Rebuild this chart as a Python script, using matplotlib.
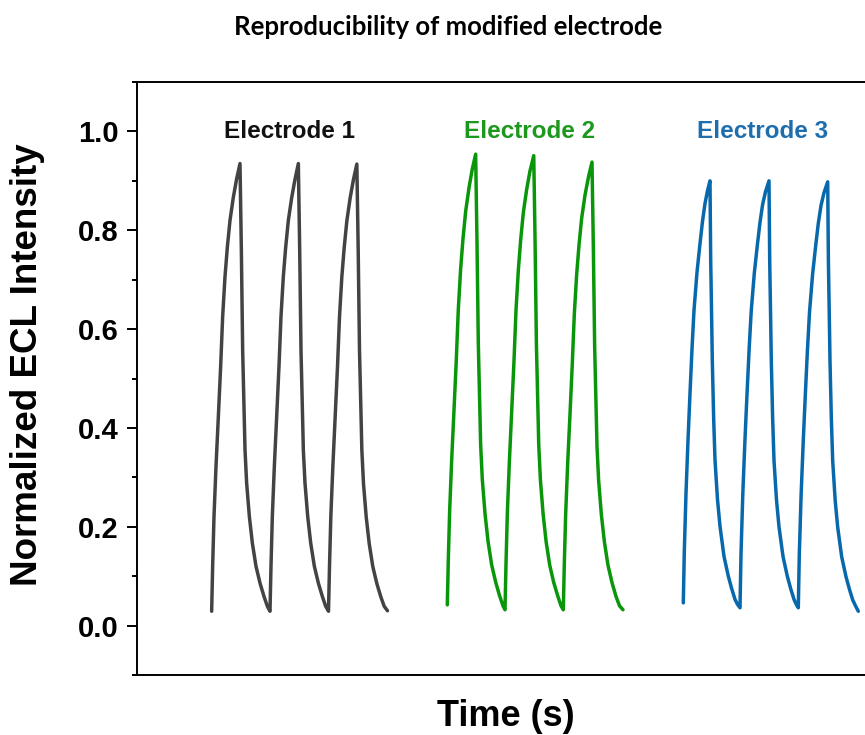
import matplotlib.pyplot as plt
from matplotlib.ticker import MultipleLocator

# time axis in s, three pulses per electrode
e1_time = [14.93, 15.13, 15.40, 15.80, 16.27, 16.73, 17.13, 17.60, 18.07, 18.60, 19.27, 19.93, 20.60,
           20.87, 21.13, 21.60, 21.93, 22.47, 23.07, 23.80, 24.60, 25.40, 26.07,
           26.60, 26.80, 27.07, 27.47, 27.94, 28.40, 28.80, 29.27, 29.74, 30.27, 30.94, 31.60, 32.27,
           32.54, 32.80, 33.27, 33.60, 34.14, 34.74, 35.47, 36.27, 37.07, 37.74,
           38.30, 38.50, 38.77, 39.17, 39.64, 40.10, 40.50, 40.97, 41.44, 41.97, 42.64, 43.30, 43.97,
           44.24, 44.50, 44.97, 45.30, 45.84, 46.44, 47.17, 47.97, 48.77, 49.44, 50.10]
e1_signal = [0.029, 0.120, 0.221, 0.322, 0.423, 0.524, 0.625, 0.706, 0.766, 0.820, 0.867, 0.904, 0.935,
             0.760, 0.558, 0.356, 0.288, 0.221, 0.167, 0.120, 0.086, 0.059, 0.039,
             0.029, 0.121, 0.222, 0.323, 0.424, 0.525, 0.626, 0.707, 0.766, 0.820, 0.866, 0.903, 0.935,
             0.759, 0.557, 0.355, 0.288, 0.221, 0.167, 0.120, 0.086, 0.059, 0.039,
             0.029, 0.120, 0.222, 0.322, 0.424, 0.524, 0.625, 0.706, 0.765, 0.819, 0.866, 0.903, 0.934,
             0.759, 0.557, 0.355, 0.287, 0.220, 0.166, 0.119, 0.085, 0.058, 0.039, 0.030]

e2_time = [62.06, 62.26, 62.53, 62.93, 63.40, 63.86, 64.26, 64.73, 65.20, 65.73, 66.40, 67.06, 67.73,
           68.00, 68.26, 68.73, 69.06, 69.60, 70.20, 70.93, 71.73, 72.53, 73.20,
           73.60, 73.80, 74.07, 74.47, 74.94, 75.40, 75.80, 76.27, 76.74, 77.27, 77.94, 78.60, 79.35,
           79.62, 79.88, 80.35, 80.68, 81.22, 81.82, 82.55, 83.35, 84.15, 84.80,
           85.26, 85.46, 85.73, 86.13, 86.60, 87.06, 87.46, 87.93, 88.40, 88.93, 89.60, 90.30, 91.00,
           91.27, 91.53, 92.00, 92.33, 92.87, 93.47, 94.20, 95.00, 95.80, 96.50, 97.20]
e2_signal = [0.042, 0.132, 0.232, 0.334, 0.436, 0.538, 0.640, 0.722, 0.783, 0.838, 0.886, 0.924, 0.954,
             0.776, 0.572, 0.366, 0.296, 0.227, 0.171, 0.123, 0.088, 0.060, 0.040,
             0.032, 0.125, 0.228, 0.331, 0.434, 0.536, 0.638, 0.720, 0.781, 0.836, 0.883, 0.920, 0.951,
             0.774, 0.570, 0.365, 0.295, 0.226, 0.170, 0.122, 0.087, 0.060, 0.040,
             0.032, 0.124, 0.225, 0.327, 0.428, 0.530, 0.630, 0.710, 0.770, 0.824, 0.871, 0.908, 0.938,
             0.765, 0.565, 0.362, 0.293, 0.225, 0.170, 0.122, 0.087, 0.059, 0.040, 0.032]

e3_time = [109.26, 109.46, 109.80, 110.20, 110.60, 111.00, 111.40, 112.00, 112.60, 113.10, 113.60, 114.10, 114.60,
           114.74, 114.90, 115.06, 115.33, 115.60, 116.10, 116.60, 117.40, 118.26, 118.93, 119.60, 120.10,
           120.60, 120.80, 121.16, 121.58, 122.00, 122.42, 122.84, 123.46, 124.08, 124.60, 125.12, 125.70, 126.40,
           126.54, 126.70, 126.86, 127.13, 127.40, 127.90, 128.40, 129.20, 130.06, 130.73, 131.40, 131.85,
           132.26, 132.46, 132.82, 133.24, 133.66, 134.08, 134.50, 135.12, 135.74, 136.26, 136.80, 137.40, 138.14,
           138.28, 138.44, 138.60, 138.87, 139.14, 139.64, 140.14, 140.94, 141.80, 142.47, 143.14, 143.70, 144.26]
e3_signal = [0.046, 0.150, 0.268, 0.375, 0.470, 0.560, 0.638, 0.715, 0.773, 0.818, 0.854, 0.880, 0.900,
             0.739, 0.640, 0.537, 0.420, 0.335, 0.255, 0.201, 0.140, 0.100, 0.075, 0.053, 0.043,
             0.036, 0.145, 0.266, 0.373, 0.468, 0.558, 0.636, 0.713, 0.771, 0.816, 0.852, 0.878, 0.900,
             0.738, 0.639, 0.536, 0.419, 0.334, 0.254, 0.200, 0.140, 0.100, 0.075, 0.053, 0.043,
             0.036, 0.144, 0.264, 0.371, 0.466, 0.556, 0.634, 0.711, 0.769, 0.814, 0.850, 0.876, 0.898,
             0.737, 0.638, 0.535, 0.418, 0.333, 0.253, 0.199, 0.139, 0.099, 0.074, 0.052, 0.040, 0.029]

labels = ["Electrode 1", "Electrode 2", "Electrode 3"]
label_x = [30.5, 78.5, 125.2]
line_colors = ["#434343", "#0a960a", "#0868ac"]
text_colors = ["#111111", "#1c981c", "#1e6eae"]

plt.rcParams["font.family"] = ["Liberation Sans", "DejaVu Sans"]
plt.rcParams["font.weight"] = "bold"

fig = plt.figure(figsize=(8.65, 7.35), dpi=100)
ax = fig.add_axes([137 / 865, 60 / 735, 738 / 865, 593 / 735])

series = [(e1_time, e1_signal), (e2_time, e2_signal), (e3_time, e3_signal)]
for (t, s), c in zip(series, line_colors):
    ax.plot(t, s, color=c, lw=2.5, solid_joinstyle="round", solid_capstyle="round")

for name, x, c in zip(labels, label_x, text_colors):
    ax.text(x, 1.0, name, color=c, fontsize=17.5, fontweight="bold", ha="center", va="center")

ax.set_xlim(0, 147.6)
ax.set_ylim(-0.1, 1.1)
ax.set_xticks([])
ax.yaxis.set_major_locator(MultipleLocator(0.2))
ax.yaxis.set_minor_locator(MultipleLocator(0.1))
ax.tick_params(axis="y", which="major", direction="out", length=7, width=1.4, pad=6, labelsize=21)
ax.tick_params(axis="y", which="minor", direction="out", length=3.5, width=1.4)
for lab in ax.get_yticklabels():
    lab.set_fontweight("bold")

for side in ["left", "bottom", "top"]:
    ax.spines[side].set_linewidth(1.4)
ax.spines["right"].set_visible(False)

ax.set_ylabel("Normalized ECL Intensity", fontsize=26.5, fontweight="bold")
ax.yaxis.set_label_coords(-0.125, 0.523)
ax.set_xlabel("Time (s)", fontsize=26, fontweight="bold")
ax.xaxis.set_label_coords(0.5, -0.04)

fig.text(448 / 865, 1 - 27 / 735, "Reproducibility of modified electrode",
         family=["Lato", "DejaVu Sans"], fontsize=18.5, fontweight="bold", ha="center", va="center")

fig.savefig("out.png", dpi=100)
